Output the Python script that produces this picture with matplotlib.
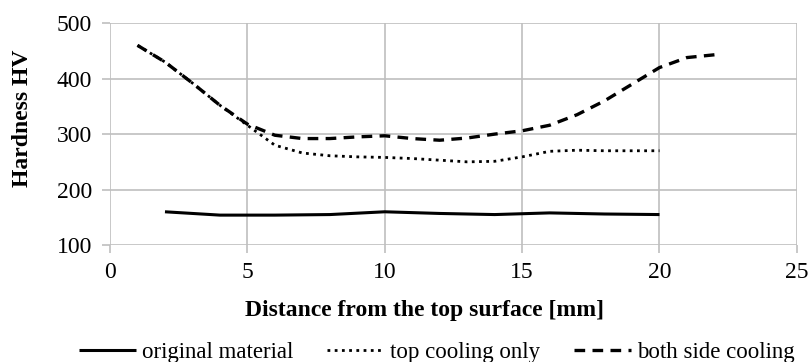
import matplotlib
matplotlib.use("Agg")
import matplotlib.pyplot as plt

plt.rcParams['font.family'] = ['Liberation Serif', 'DejaVu Serif']

orig_x = [2, 4, 6, 8, 10, 12, 14, 16, 18, 20]
orig_y = [160, 154, 154, 155, 160, 157, 155, 158, 156, 155]

top_x = [1, 2, 3, 4, 5, 6, 7, 8, 9, 10, 11, 12, 13, 14, 15, 16, 17, 18, 19, 20]
top_y = [460, 430, 392, 352, 316, 280, 266, 261, 259, 258, 256, 253, 250, 251, 259, 269, 271, 270, 270, 270]

both_x = [1, 2, 3, 4, 5, 6, 7, 8, 9, 10, 11, 12, 13, 14, 15, 16, 17, 18, 19, 20, 21, 22]
both_y = [460, 430, 392, 352, 318, 298, 292, 292, 295, 297, 292, 289, 293, 300, 306, 316, 335, 360, 390, 420, 438, 443]

xticks = [0, 5, 10, 15, 20, 25]
yticks = [100, 200, 300, 400, 500]

fig = plt.figure(figsize=(8.09, 3.62), dpi=100)
ax = fig.add_axes([0.136, 0.323, 0.849, 0.613])

ax.plot(orig_x, orig_y, color='black', lw=2.2, solid_capstyle='butt', label='original material')
ax.plot(top_x, top_y, color='black', lw=2.0, linestyle=(0, (1, 1.6)), label='top cooling only')
ax.plot(both_x, both_y, color='black', lw=2.4, linestyle=(0, (3.2, 2.2)), label='both side cooling')

ax.set_xlim(0, 25)
ax.set_ylim(100, 500)
ax.set_xticks(xticks)
ax.set_yticks(yticks)
ax.grid(True, color='#bfbfbf', lw=1.2)
ax.set_axisbelow(True)
for s in ax.spines.values():
    s.set_visible(False)
ax.tick_params(axis='both', labelsize=17, colors='#bfbfbf', labelcolor='black', length=6, width=1.2)
ax.tick_params(axis='x', pad=6)
ax.tick_params(axis='y', pad=7)

ax.set_xlabel('Distance from the top surface [mm]', fontsize=17, fontweight='bold', va='center')
ax.xaxis.set_label_coords((425 - 110) / 687, (245 - 310) / 222)
ax.set_ylabel('Hardness HV', fontsize=17, fontweight='bold', va='center')
ax.yaxis.set_label_coords((22 - 110) / 687, (245 - 118) / 222)

leg = fig.legend(loc='center', bbox_to_anchor=(0.54, 1 - 352 / 362), ncol=3, frameon=False,
                 fontsize=16.5, handlelength=2.5, handletextpad=0.27, columnspacing=1.45,
                 borderpad=0, borderaxespad=0)

fig.savefig('out.png', dpi=100)
